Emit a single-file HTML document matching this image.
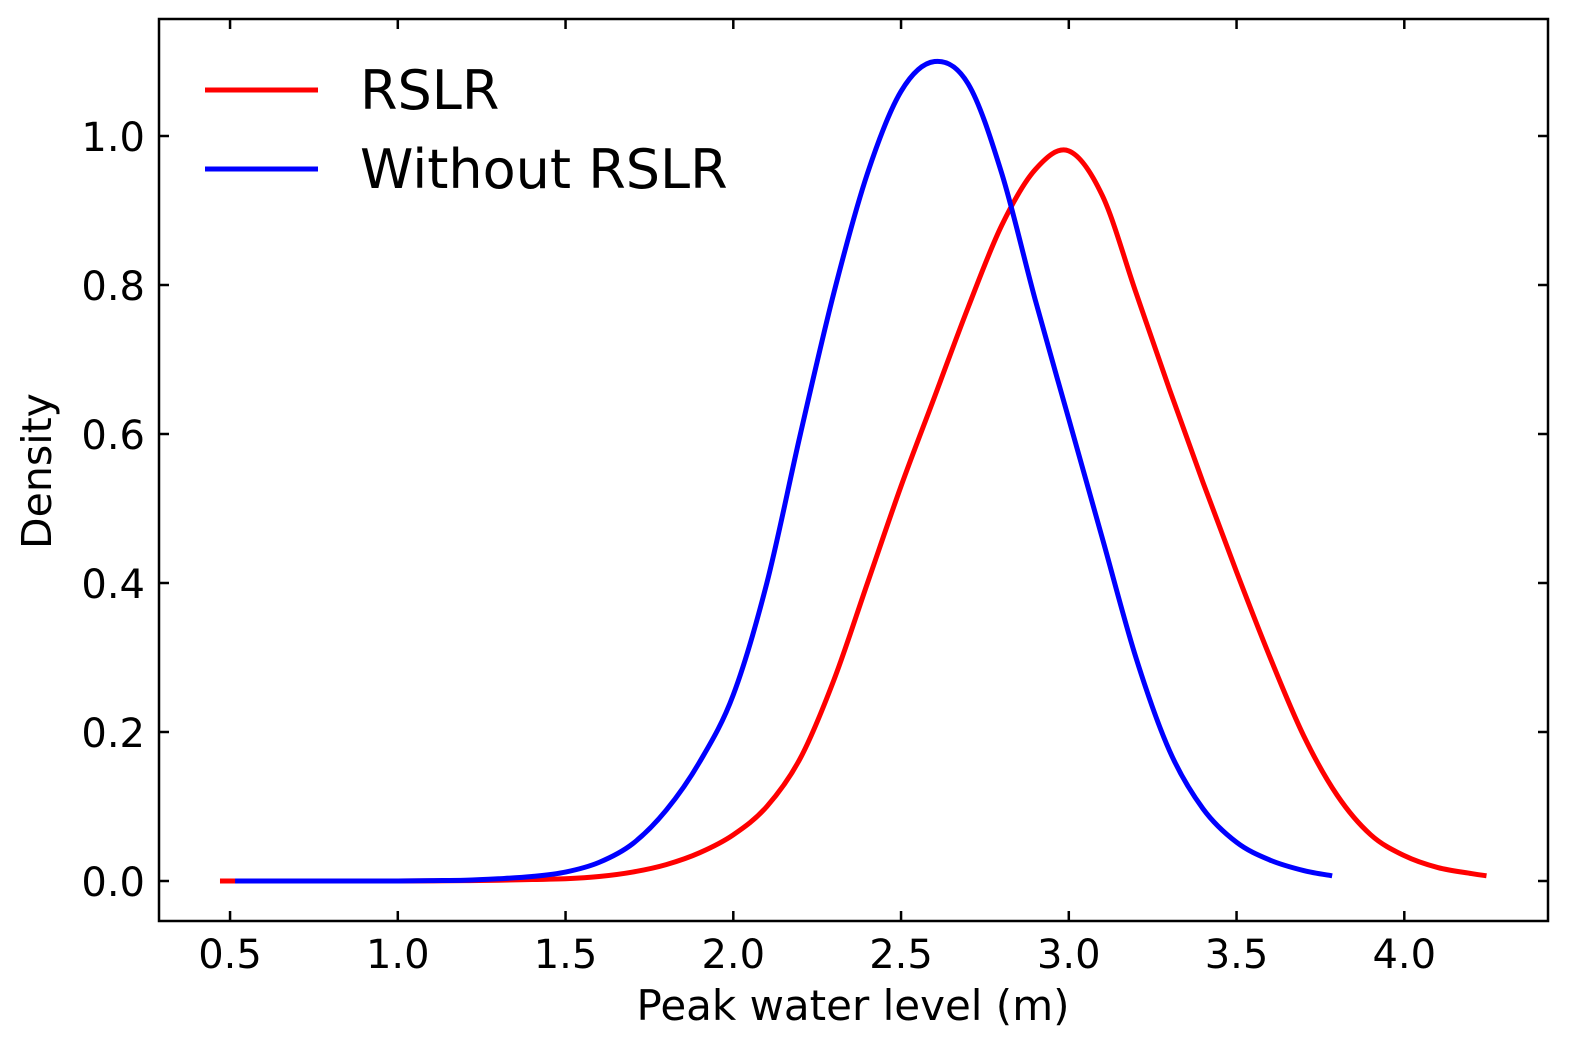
<!DOCTYPE html>
<html><head><meta charset="utf-8"><style>
body{margin:0;background:#fff}
svg{display:block;font-family:"DejaVu Sans","Liberation Sans",sans-serif}
</style></head><body>
<svg id="chart" width="1576" height="1049"></svg>
<script>
const xTicks=[0.5,1.0,1.5,2.0,2.5,3.0,3.5,4.0];
const yTicks=[0.0,0.2,0.4,0.6,0.8,1.0];
const rslrX=[0.47,0.6,0.7,0.8,0.9,1.0,1.1,1.2,1.3,1.4,1.5,1.6,1.7,1.8,1.9,2.0,2.1,2.2,2.3,2.4,2.5,2.6,2.7,2.8,2.9,3.0,3.1,3.2,3.3,3.4,3.5,3.6,3.7,3.8,3.9,4.0,4.1,4.2,4.245];
const rslrY=[0,0,0,0,0,0,0.0002,0.0005,0.001,0.002,0.003,0.006,0.012,0.022,0.038,0.062,0.10,0.165,0.27,0.40,0.53,0.65,0.77,0.88,0.955,0.98,0.92,0.79,0.66,0.535,0.415,0.30,0.195,0.115,0.062,0.034,0.018,0.01,0.007];
const noX=[0.515,0.6,0.7,0.8,0.9,1.0,1.1,1.2,1.3,1.4,1.5,1.6,1.7,1.8,1.9,2.0,2.1,2.2,2.3,2.4,2.5,2.6,2.7,2.8,2.9,3.0,3.1,3.2,3.3,3.4,3.5,3.6,3.7,3.785];
const noY=[0,0,0,0,0,0,0.0005,0.001,0.003,0.006,0.012,0.025,0.05,0.095,0.16,0.25,0.40,0.60,0.79,0.95,1.06,1.10,1.07,0.95,0.78,0.62,0.46,0.30,0.175,0.097,0.052,0.028,0.014,0.007];
const L=159,R=1548,T=19,B=921;
const sx=v=>62.3+v*335.5, sy=v=>881-v*745;
const NS="http://www.w3.org/2000/svg", svg=document.getElementById('chart');
function mk(t,a,p){const e=document.createElementNS(NS,t);for(const k in a)e.setAttribute(k,a[k]);(p||svg).appendChild(e);return e;}
function path(xs,ys){const p=xs.map((x,i)=>[sx(x),sy(ys[i])]);let d=`M${p[0][0]},${p[0][1]}`;
for(let i=0;i<p.length-1;i++){const p0=p[i-1]||p[i],p1=p[i],p2=p[i+1],p3=p[i+2]||p2;
let c1y=Math.min(p1[1]+(p2[1]-p0[1])/6,881),c2y=Math.min(p2[1]-(p3[1]-p1[1])/6,881);
d+=` C${p1[0]+(p2[0]-p0[0])/6},${c1y} ${p2[0]-(p3[0]-p1[0])/6},${c2y} ${p2[0]},${p2[1]}`;}return d;}
xTicks.forEach(v=>{const x=sx(v);
let t=mk('line',{x1:x,x2:x,y1:B,y2:B-10,stroke:'#000','stroke-width':2.5});

mk('line',{x1:x,x2:x,y1:T,y2:T+10,stroke:'#000','stroke-width':2.5});
let l=mk('text',{x:x,y:968,'text-anchor':'middle','font-size':40});l.textContent=v.toFixed(1);
});
yTicks.forEach(v=>{const y=sy(v);
let t=mk('line',{x1:L,x2:L+10,y1:y,y2:y,stroke:'#000','stroke-width':2.5});

mk('line',{x1:R,x2:R-10,y1:y,y2:y,stroke:'#000','stroke-width':2.5});
let l=mk('text',{x:145,y:y+15,'text-anchor':'end','font-size':40});l.textContent=v.toFixed(1);
});
let r=mk('path',{d:path(rslrX,rslrY),fill:'none',stroke:'#ff0000','stroke-width':5});

let b=mk('path',{d:path(noX,noY),fill:'none',stroke:'#0000ff','stroke-width':5});

let fr=mk('rect',{x:L,y:T,width:R-L,height:B-T,fill:'none',stroke:'#000','stroke-width':2.5});

let xl=mk('text',{x:853,y:1020,'text-anchor':'middle','font-size':42});xl.textContent='Peak water level (m)';

let yl=mk('text',{x:0,y:0,'text-anchor':'middle','font-size':41,transform:'translate(51,471) rotate(-90)'});yl.textContent='Density';

[['RSLR','#ff0000',90],['Without RSLR','#0000ff',169]].forEach(([n,c,y])=>{
let g=mk('g',{});
mk('line',{x1:205,x2:318,y1:y,y2:y,stroke:c,'stroke-width':5},g);
let t=mk('text',{x:360,y:y+19,'font-size':54},g);t.textContent=n;});
</script></body></html>
